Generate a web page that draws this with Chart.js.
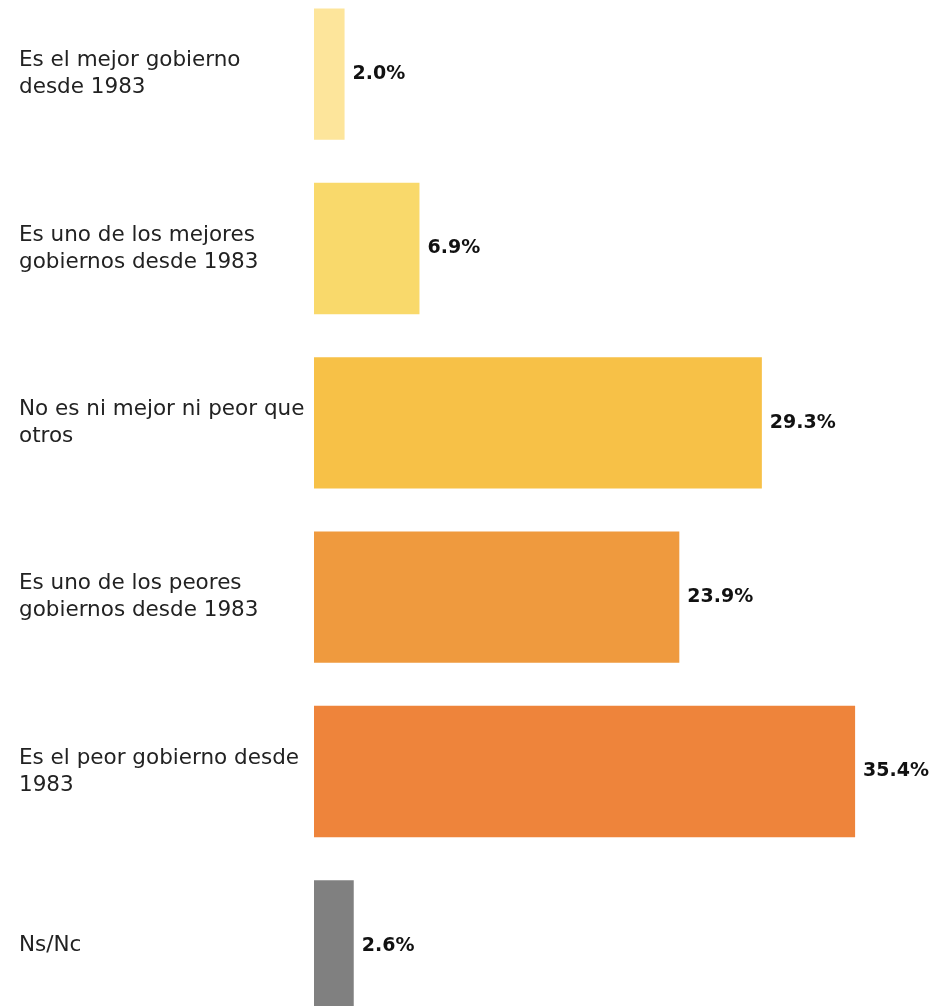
<!DOCTYPE html>
<html lang="es">
<head>
  <meta charset="UTF-8" />
  <title>Opinión sobre el gobierno</title>
  <script src="https://cdn.jsdelivr.net/npm/chart.js"></script>
  <style>
    html, body { margin: 0; padding: 0; background: #fff; overflow: hidden; width: 930px; height: 1006px; }
    #wrap { position: absolute; left: 0; top: -13px; width: 930px; height: 1046px; }
  </style>
</head>
<body>
  <div id="wrap"><canvas id="chart"></canvas></div>

  <script>
    const categories = [
      ['Es el mejor gobierno', 'desde 1983'],
      ['Es uno de los mejores', 'gobiernos desde 1983'],
      ['No es ni mejor ni peor que', 'otros'],
      ['Es uno de los peores', 'gobiernos desde 1983'],
      ['Es el peor gobierno desde', '1983'],
      ['Ns/Nc']
    ];
    const values = [2.0, 6.9, 29.3, 23.9, 35.4, 2.6];
    const colors = ['#FDE59B', '#F9D96B', '#F7C147', '#EF9A3E', '#EE843B', '#808080'];

    const fontFamily = '"DejaVu Sans", sans-serif';

    // dibuja el porcentaje al final de cada barra
    const valueLabels = {
      id: 'valueLabels',
      afterDatasetsDraw(chart) {
        const ctx = chart.ctx;
        const meta = chart.getDatasetMeta(0);
        ctx.save();
        ctx.font = 'bold 19px ' + fontFamily;
        ctx.fillStyle = '#111';
        ctx.textAlign = 'left';
        ctx.textBaseline = 'middle';
        meta.data.forEach((bar, i) => {
          ctx.fillText(values[i].toFixed(1) + '%', bar.x + 8, bar.y);
        });
        ctx.restore();
      }
    };

    new Chart(document.getElementById('chart'), {
      type: 'bar',
      data: {
        labels: categories,
        datasets: [{
          data: values,
          backgroundColor: colors,
          borderWidth: 0,
          barPercentage: 0.753,
          categoryPercentage: 1.0
        }]
      },
      options: {
        indexAxis: 'y',
        responsive: true,
        maintainAspectRatio: false,
        animation: false,
        layout: { padding: { left: 19, right: 0, top: 0, bottom: 0 } },
        plugins: {
          legend: { display: false },
          tooltip: { enabled: false }
        },
        scales: {
          x: {
            display: false,
            min: 0,
            max: 40.3
          },
          y: {
            grid: { display: false, drawTicks: false },
            border: { display: false },
            ticks: {
              crossAlign: 'far',
              color: '#222',
              font: { family: fontFamily, size: 21.5, lineHeight: 1.26 },
              padding: 0
            },
            afterFit(scale) {
              scale.width = 295;
              scale.paddingTop = 0;
              scale.paddingBottom = 0;
            }
          }
        }
      },
      plugins: [valueLabels]
    });
  </script>
</body>
</html>
